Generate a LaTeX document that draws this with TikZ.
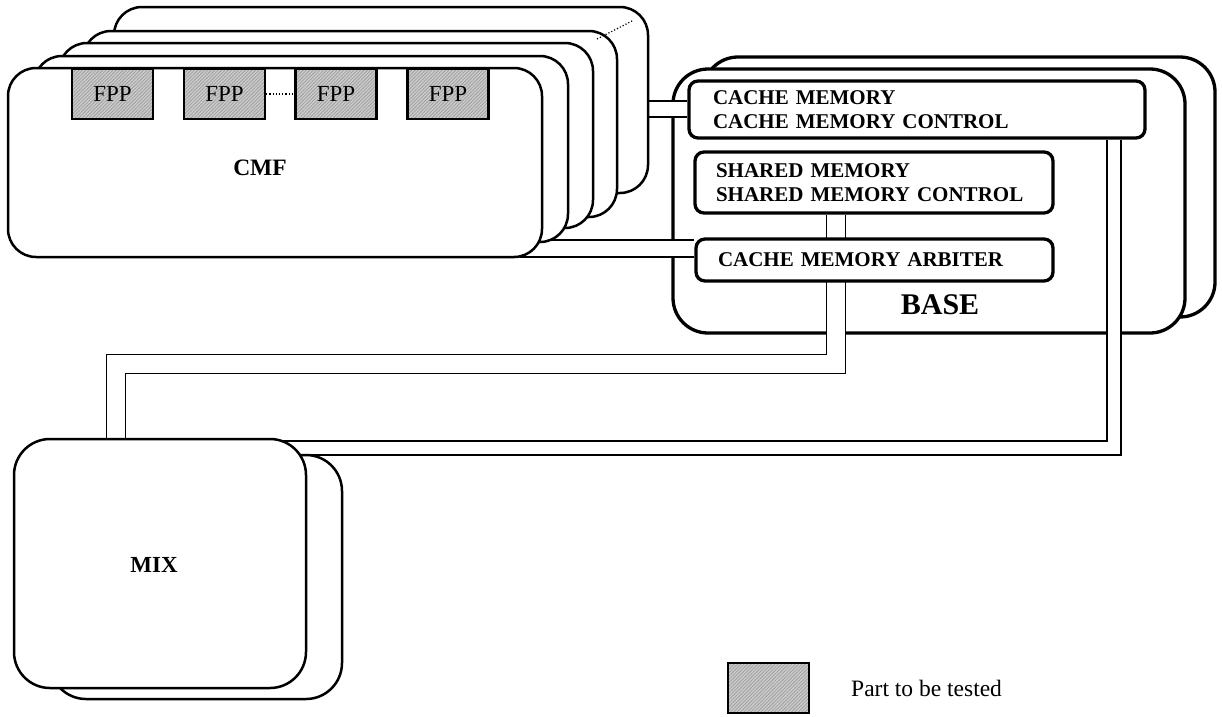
\documentclass[tikz,border=0pt]{standalone}
\usepackage{fontspec}
\setmainfont{Liberation Serif}
\usetikzlibrary{patterns.meta}
\pgfdeclarelayer{back}
\pgfdeclarelayer{mid}
\pgfsetlayers{back,mid,main}
\begin{document}
\begin{tikzpicture}[x=1pt,y=-1pt,
  cmfbox/.style={draw, line width=2.5pt, fill=white, rounded corners=28pt},
  basebox/.style={draw, line width=3.3pt, fill=white, rounded corners=35pt},
  unitbox/.style={draw, line width=3.3pt, fill=white, rounded corners=9pt, inner ysep=0pt, align=left,
    font=\fontsize{21}{24}\bfseries\selectfont},
  fppbox/.style={draw, line width=2.3pt, preaction={fill=gray!40},
    pattern={Lines[angle=45,distance=2.4pt,line width=0.8pt]}, pattern color=gray!75,
    minimum width=81pt, minimum height=50pt, inner sep=0pt, font=\fontsize{23}{25}\selectfont},
  mixbox/.style={draw, line width=2.5pt, fill=white, rounded corners=36pt},
  lbl/.style={font=\fontsize{23.5}{26}\bfseries\selectfont, inner sep=0pt},
  band/.style={draw=black, line width=1.3pt, double=white, double distance=#1, line join=miter},
  dotline/.style={dotted, line width=1.2pt}
]
\useasboundingbox (0,0) rectangle (1222,716);

% ---------- BASE (back layer) ----------
\begin{pgfonlayer}{back}
  \draw[basebox] (703,57) rectangle (1215,317);
  \node[basebox, minimum width=512pt, minimum height=264pt, inner sep=0pt] (base) at (929,201) {};
\end{pgfonlayer}

% ---------- CMF stack ----------
\draw[cmfbox] (114,7) rectangle (648,193);
\draw[cmfbox] (83,31) rectangle (617,217);
\draw[cmfbox] (59,43) rectangle (593,228);
\draw[cmfbox] (34,56) rectangle (568,242);
\node[cmfbox, minimum width=534pt, minimum height=189pt, inner sep=0pt] (cmf) at (275,162.5) {};
\coordinate (dA) at (597,39);
\coordinate (dB) at (632,21);
\draw[dotline] (dA) -- (dB);

\node[fppbox] (fpp1) at (112.5,94) {FPP};
\node[fppbox] (fpp2) at (224.5,94) {FPP};
\node[fppbox] (fpp3) at (336,94) {FPP};
\node[fppbox] (fpp4) at (448,94) {FPP};
\draw[dotline] (fpp2.east) -- (fpp3.west);
\node[lbl] (cmflbl) at (260,168) {CMF};

% ---------- BASE units ----------
\node[unitbox, minimum height=57pt, inner xsep=24pt, text width=408pt] (cache) at (917,109.5)
  {CACHE MEMORY\\CACHE MEMORY CONTROL};
\node[unitbox, minimum height=61pt, inner xsep=21pt, text width=316pt] (shared) at (874,182.5)
  {SHARED MEMORY\\SHARED MEMORY CONTROL};
\node[unitbox, minimum height=42pt, inner xsep=22pt, text width=313pt] (arb) at (874.5,260)
  {CACHE MEMORY ARBITER};
\node[font=\fontsize{30}{34}\bfseries\selectfont, inner sep=0pt] (baselbl) at (940,305) {BASE};

% ---------- MIX ----------
\draw[mixbox] (50,455) rectangle (342,699);
\node[mixbox, minimum width=292pt, minimum height=249pt, inner sep=0pt] (mix) at (160,563.5) {};
\node[lbl, font=\fontsize{23}{26}\bfseries\selectfont] (mixlbl) at (154,565) {MIX};

% ---------- legend ----------
\node[fppbox, line width=2.8pt] (legend) at (768.5,688) {};
\node[anchor=west, inner sep=0pt, font=\fontsize{23.5}{26}\selectfont] (legendtext) at (851,688) {Part to be tested};

% ---------- connectors (bands) ----------
\coordinate (cmfp1) at (640,109);
\coordinate (cmfp2) at (520,248.5);
\coordinate (b1) at (836,364);
\coordinate (b1l) at (116,364);
\coordinate (b2) at (1114,448);
\coordinate (b2l) at (200,448);
\begin{pgfonlayer}{mid}
  \draw[band=14.7pt] (cmfp1) -- (cmfp1 -| cache.west);
  \draw[band=15.7pt] (cmfp2) -- (cmfp2 -| arb.west);
  \draw[band=17.7pt] (shared.south -| b1) -- (b1) -- (b1l) -- (b1l |- mix.north);
  \draw[band=12.7pt] (cache.south -| b2) -- (b2) -- (b2l);
\end{pgfonlayer}
\end{tikzpicture}
\end{document}
